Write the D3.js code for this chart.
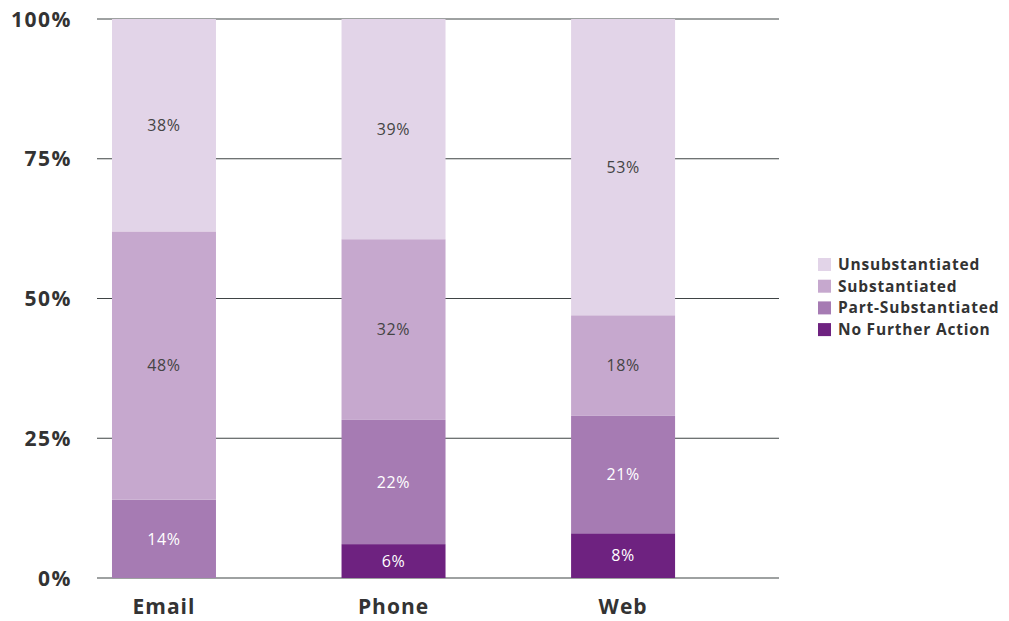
<!DOCTYPE html>
<html>
<head>
<meta charset="utf-8">
<script src="https://cdn.jsdelivr.net/npm/d3@7"></script>
<style>
  html, body { margin: 0; padding: 0; background: #fff; }
  svg { display: block; font-family: "Open Sans", "DejaVu Sans", sans-serif; }
</style>
</head>
<body>
<svg id="chart" width="1009" height="621"></svg>
<script>
// Complaint outcomes by channel (percent shares)
const channels = ["Email", "Phone", "Web"];
const outcomes = ["No Further Action", "Part-Substantiated", "Substantiated", "Unsubstantiated"];
const noFurtherAction = [0, 6, 8];
const partSubstantiated = [14, 22, 21];
const substantiated = [48, 32, 18];
const unsubstantiated = [38, 39, 53];
const yTicks = [0, 0.25, 0.5, 0.75, 1];
const legendOrder = ["Unsubstantiated", "Substantiated", "Part-Substantiated", "No Further Action"];

const colors = {
  "Unsubstantiated": "#e2d4e8",
  "Substantiated": "#c6a8ce",
  "Part-Substantiated": "#a67bb3",
  "No Further Action": "#6e2280"
};
const labelColors = {
  "Unsubstantiated": "#444444",
  "Substantiated": "#444444",
  "Part-Substantiated": "#ffffff",
  "No Further Action": "#ffffff"
};

const rows = channels.map((c, i) => ({
  channel: c,
  "No Further Action": noFurtherAction[i],
  "Part-Substantiated": partSubstantiated[i],
  "Substantiated": substantiated[i],
  "Unsubstantiated": unsubstantiated[i]
}));

const series = d3.stack().keys(outcomes).offset(d3.stackOffsetExpand)(rows);

const svg = d3.select("#chart");
const plotLeft = 97, plotRight = 779, plotTop = 19, plotBottom = 578;

const x = d3.scaleBand()
  .domain(channels)
  .range([plotLeft, plotRight])
  .paddingInner(0.547)
  .paddingOuter(0.259)
  .align(0.126);

const y = d3.scaleLinear().domain([0, 1]).range([plotBottom, plotTop]);

// gridlines
svg.append("g")
  .selectAll("line")
  .data(yTicks)
  .join("line")
  .attr("x1", plotLeft).attr("x2", plotRight)
  .attr("y1", d => y(d)).attr("y2", d => y(d))
  .attr("stroke", "#3f4445")
  .attr("stroke-width", 1.2);

// y tick labels
svg.append("g")
  .selectAll("text")
  .data(yTicks)
  .join("text")
  .attr("x", 72)
  .attr("y", d => y(d))
  .attr("dy", "0.36em")
  .attr("text-anchor", "end")
  .attr("font-size", 21)
  .attr("font-weight", 700)
  .attr("letter-spacing", 1.5)
  .attr("fill", "#333")
  .text(d => d3.format(".0%")(d));

// stacked bars
const layer = svg.append("g")
  .selectAll("g")
  .data(series)
  .join("g")
  .attr("fill", s => colors[s.key]);

layer.selectAll("rect")
  .data(s => s.map(d => ({ key: s.key, d })))
  .join("rect")
  .attr("x", e => x(e.d.data.channel))
  .attr("width", x.bandwidth())
  .attr("y", e => y(e.d[1]))
  .attr("height", e => y(e.d[0]) - y(e.d[1]));

// value labels
svg.append("g")
  .selectAll("g")
  .data(series)
  .join("g")
  .selectAll("text")
  .data(s => s.map(d => ({ key: s.key, d })).filter(e => e.d.data[e.key] > 0))
  .join("text")
  .attr("x", e => x(e.d.data.channel) + x.bandwidth() / 2)
  .attr("y", e => (y(e.d[0]) + y(e.d[1])) / 2)
  .attr("dy", "0.36em")
  .attr("text-anchor", "middle")
  .attr("font-size", 16)
  .attr("letter-spacing", 0.6)
  .attr("fill", e => labelColors[e.key])
  .text(e => e.d.data[e.key] + "%");

// category labels
svg.append("g")
  .selectAll("text")
  .data(channels)
  .join("text")
  .attr("x", d => x(d) + x.bandwidth() / 2)
  .attr("y", 606)
  .attr("dy", "0.36em")
  .attr("text-anchor", "middle")
  .attr("font-size", 21)
  .attr("font-weight", 700)
  .attr("letter-spacing", 1)
  .attr("fill", "#333")
  .text(d => d);

// legend
const legend = svg.append("g").attr("transform", "translate(818,258)");
const item = legend.selectAll("g")
  .data(legendOrder)
  .join("g")
  .attr("transform", (d, i) => `translate(0,${i * 21.7})`);
item.append("rect")
  .attr("width", 13).attr("height", 13)
  .attr("fill", d => colors[d]);
item.append("text")
  .attr("x", 20)
  .attr("y", 6.5)
  .attr("dy", "0.36em")
  .attr("font-size", 15.5)
  .attr("font-weight", 700)
  .attr("letter-spacing", 0.8)
  .attr("fill", "#333")
  .text(d => d);
</script>
</body>
</html>
